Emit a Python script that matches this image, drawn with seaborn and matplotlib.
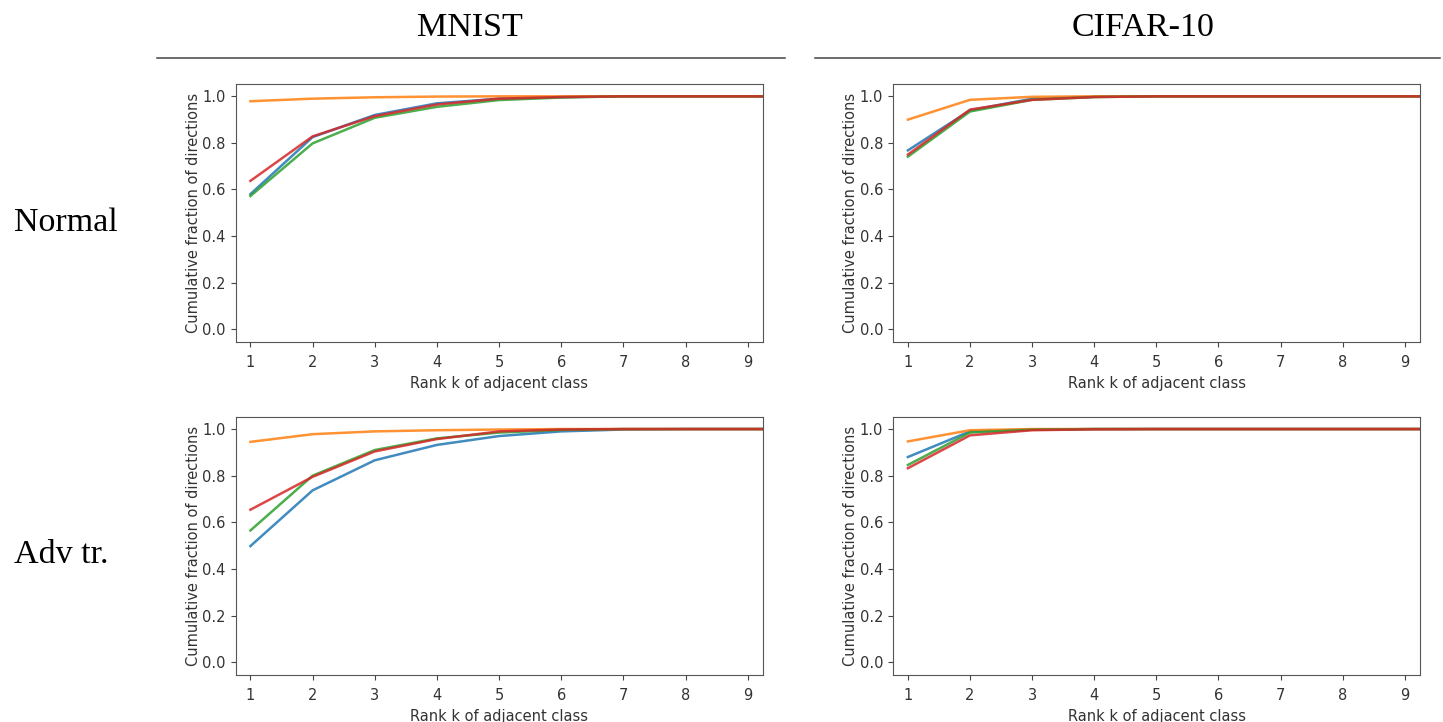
import numpy as np
import pandas as pd
import matplotlib
matplotlib.use("Agg")
import matplotlib.pyplot as plt
from matplotlib.lines import Line2D
import seaborn as sns

ranks = [1, 2, 3, 4, 5, 6, 7, 8, 9, 10]
tick_ranks = [1, 2, 3, 4, 5, 6, 7, 8, 9]
series_names = ["s1", "s2", "s3", "s4"]
col_titles = ["MNIST", "CIFAR-10"]
row_titles = ["Normal", "Adv tr."]

# MNIST, normal training
mnist_normal_s1 = [0.580, 0.825, 0.920, 0.970, 0.990, 0.997, 1.000, 1.000, 1.000, 1.000]
mnist_normal_s2 = [0.979, 0.990, 0.996, 0.999, 1.000, 1.000, 1.000, 1.000, 1.000, 1.000]
mnist_normal_s3 = [0.572, 0.798, 0.908, 0.955, 0.984, 0.995, 1.000, 1.000, 1.000, 1.000]
mnist_normal_s4 = [0.637, 0.828, 0.915, 0.965, 0.990, 0.997, 1.000, 1.000, 1.000, 1.000]

# CIFAR-10, normal training
cifar_normal_s1 = [0.768, 0.940, 0.990, 0.998, 1.000, 1.000, 1.000, 1.000, 1.000, 1.000]
cifar_normal_s2 = [0.900, 0.985, 0.998, 1.000, 1.000, 1.000, 1.000, 1.000, 1.000, 1.000]
cifar_normal_s3 = [0.741, 0.935, 0.985, 0.997, 1.000, 1.000, 1.000, 1.000, 1.000, 1.000]
cifar_normal_s4 = [0.750, 0.943, 0.985, 0.997, 1.000, 1.000, 1.000, 1.000, 1.000, 1.000]

# MNIST, adversarial training
mnist_adv_s1 = [0.498, 0.737, 0.866, 0.932, 0.970, 0.990, 0.998, 1.000, 1.000, 1.000]
mnist_adv_s2 = [0.945, 0.978, 0.990, 0.995, 0.998, 1.000, 1.000, 1.000, 1.000, 1.000]
mnist_adv_s3 = [0.565, 0.800, 0.910, 0.960, 0.985, 0.996, 1.000, 1.000, 1.000, 1.000]
mnist_adv_s4 = [0.654, 0.795, 0.904, 0.957, 0.990, 0.998, 1.000, 1.000, 1.000, 1.000]

# CIFAR-10, adversarial training
cifar_adv_s1 = [0.880, 0.990, 0.998, 1.000, 1.000, 1.000, 1.000, 1.000, 1.000, 1.000]
cifar_adv_s2 = [0.947, 0.995, 1.000, 1.000, 1.000, 1.000, 1.000, 1.000, 1.000, 1.000]
cifar_adv_s3 = [0.846, 0.985, 0.997, 1.000, 1.000, 1.000, 1.000, 1.000, 1.000, 1.000]
cifar_adv_s4 = [0.832, 0.973, 0.995, 0.999, 1.000, 1.000, 1.000, 1.000, 1.000, 1.000]

yticks = [0.0, 0.2, 0.4, 0.6, 0.8, 1.0]
xlabel = "Rank k of adjacent class"
ylabel = "Cumulative fraction of directions"

panels = [
    [[mnist_normal_s1, mnist_normal_s2, mnist_normal_s3, mnist_normal_s4],
     [cifar_normal_s1, cifar_normal_s2, cifar_normal_s3, cifar_normal_s4]],
    [[mnist_adv_s1, mnist_adv_s2, mnist_adv_s3, mnist_adv_s4],
     [cifar_adv_s1, cifar_adv_s2, cifar_adv_s3, cifar_adv_s4]],
]

palette = sns.color_palette("tab10", 4)

W, H = 1443, 722
fig = plt.figure(figsize=(W / 100, H / 100), dpi=100)

lefts = [235.5, 893]
rights = [763, 1420]
tops = [84, 416.7]
bottoms = [342, 675]

for r in range(2):
    for c in range(2):
        ax = fig.add_axes([lefts[c] / W, 1 - bottoms[r] / H,
                           (rights[c] - lefts[c]) / W, (bottoms[r] - tops[r]) / H])
        rows = []
        for name, vals in zip(series_names, panels[r][c]):
            for k, v in zip(ranks, vals):
                rows.append({"rank": k, "value": v, "series": name})
        df = pd.DataFrame(rows)
        sns.lineplot(data=df, x="rank", y="value", hue="series",
                     palette=palette, linewidth=1.8, alpha=0.85,
                     legend=False, ax=ax)
        ax.set_xlim(0.76, 9.245)
        ax.set_ylim(-0.055, 1.053)
        ax.set_xticks(tick_ranks)
        ax.set_yticks(yticks)
        ax.set_yticklabels([f"{t:.1f}" for t in yticks])
        ax.tick_params(labelsize=10.5, colors="#444444", labelcolor="#333333")
        ax.tick_params(axis="x", pad=6)
        ax.set_xlabel(xlabel, fontsize=10.5, color="#333333", labelpad=4)
        ax.set_ylabel(ylabel, fontsize=10.5, color="#333333", labelpad=1)
        for s in ax.spines.values():
            s.set_color("#555555")
        ax.grid(False)

serif = ["Liberation Serif", "DejaVu Serif"]
fig.text(470 / W, 1 - 28 / H, col_titles[0], ha="center", va="center",
         fontsize=24.5, family=serif)
fig.text(1143 / W, 1 - 28 / H, col_titles[1], ha="center", va="center",
         fontsize=24.5, family=serif)
fig.text(14 / W, 1 - 223 / H, row_titles[0], ha="left", va="center",
         fontsize=24.5, family=serif)
fig.text(14 / W, 1 - 555 / H, row_titles[1], ha="left", va="center",
         fontsize=24.5, family=serif)

fig.add_artist(Line2D([157 / W, 785 / W], [1 - 57.7 / H] * 2,
                      transform=fig.transFigure, color="#444444", lw=1.1))
fig.add_artist(Line2D([815 / W, 1440 / W], [1 - 57.7 / H] * 2,
                      transform=fig.transFigure, color="#444444", lw=1.1))

fig.savefig("out.png", dpi=100)
